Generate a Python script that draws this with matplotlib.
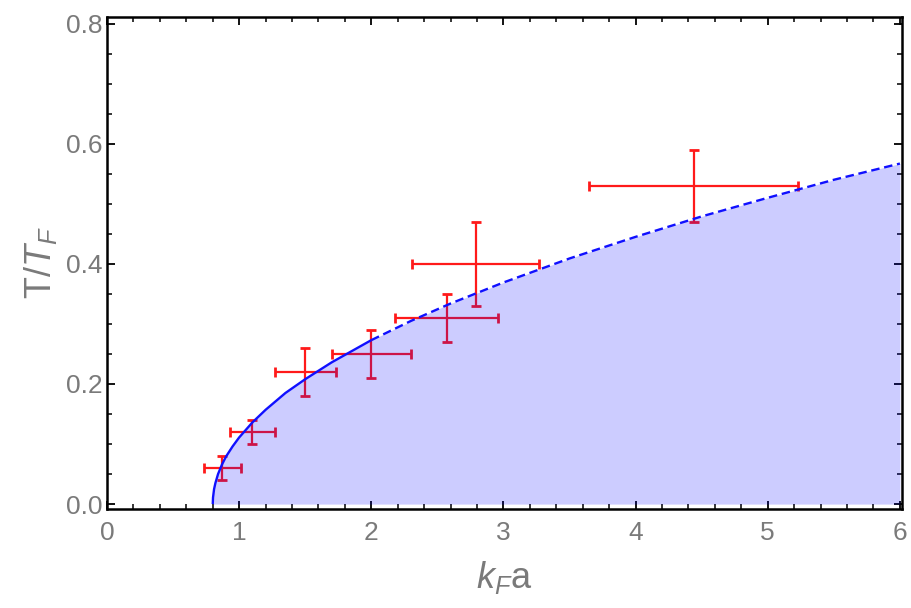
import matplotlib
matplotlib.use("Agg")
import matplotlib.pyplot as plt
from matplotlib.ticker import MultipleLocator

plt.rcParams['font.family'] = ['Liberation Sans', 'DejaVu Sans']
plt.rcParams['mathtext.fontset'] = 'custom'
plt.rcParams['mathtext.rm'] = 'Liberation Sans'
plt.rcParams['mathtext.it'] = 'Liberation Sans:italic'

# Measured critical temperatures with uncertainties
kfa = [0.87, 1.10, 1.50, 2.00, 2.57, 2.79, 4.44]
kfa_err = [0.14, 0.17, 0.23, 0.30, 0.39, 0.48, 0.79]
t_tf = [0.06, 0.12, 0.22, 0.25, 0.31, 0.40, 0.53]
t_tf_err = [0.02, 0.02, 0.04, 0.04, 0.04, 0.07, 0.06]

# Theoretical boundary (solid up to kFa = 2, dashed beyond)
curve_x = [0.80, 0.802, 0.81, 0.82, 0.84, 0.87, 0.90, 0.95, 1.00, 1.10, 1.20,
           1.35, 1.50, 1.70, 2.00, 2.30, 2.60, 3.00, 3.50, 4.00, 4.50, 5.00,
           5.50, 6.00]
curve_y = [0.0, 0.011, 0.025, 0.035, 0.050, 0.066, 0.079, 0.096, 0.111, 0.136,
           0.157, 0.185, 0.208, 0.236, 0.273, 0.305, 0.334, 0.369, 0.409,
           0.445, 0.479, 0.510, 0.540, 0.567]
solid_end = 2.00

x_ticks = [0, 1, 2, 3, 4, 5, 6]
y_ticks = [0.0, 0.2, 0.4, 0.6, 0.8]

fig = plt.figure(figsize=(9.11, 6.08), dpi=100)
ax = fig.add_axes([0.1175, 0.163, 0.8725, 0.809])

gray = '#7a7a7a'

ax.errorbar(kfa, t_tf, xerr=kfa_err, yerr=t_tf_err, fmt='none',
            ecolor='#ff1a1a', elinewidth=1.6, capsize=3.4, capthick=2.0,
            zorder=2)

ax.fill_between(curve_x, 0, curve_y, color='blue', alpha=0.2, lw=0, zorder=3)

i_split = curve_x.index(solid_end)
ax.plot(curve_x[:i_split + 1], curve_y[:i_split + 1], color='#1010ff', lw=1.7,
        solid_capstyle='butt', zorder=4)
ax.plot(curve_x[i_split:], curve_y[i_split:], color='#1010ff', lw=1.7,
        linestyle=(0, (3.6, 2.0)), zorder=4)

ax.set_xlim(0, 6.015)
ax.set_ylim(-0.008, 0.811)

ax.set_xticks(x_ticks)
ax.set_xticklabels([str(v) for v in x_ticks])
ax.set_yticks(y_ticks)
ax.set_yticklabels([f"{v:.1f}" for v in y_ticks])
ax.xaxis.set_minor_locator(MultipleLocator(0.2))
ax.yaxis.set_minor_locator(MultipleLocator(0.05))

ax.tick_params(which='both', direction='in', top=True, right=True,
               colors='black', labelcolor=gray, labelsize=19)
ax.tick_params(which='major', length=6, width=1.3)
ax.tick_params(which='minor', length=3.5, width=1.1)
ax.tick_params(axis='x', which='major', pad=9)
ax.tick_params(axis='y', which='major', pad=3)

for s in ax.spines.values():
    s.set_linewidth(1.8)
    s.set_color('black')

ax.set_xlabel(r'$k_F\mathrm{a}$', fontsize=26, color=gray, labelpad=10)
ax.set_ylabel(r'$\mathrm{T/}T_F$', fontsize=26, color=gray, labelpad=5)

fig.savefig('out.png', dpi=100)
